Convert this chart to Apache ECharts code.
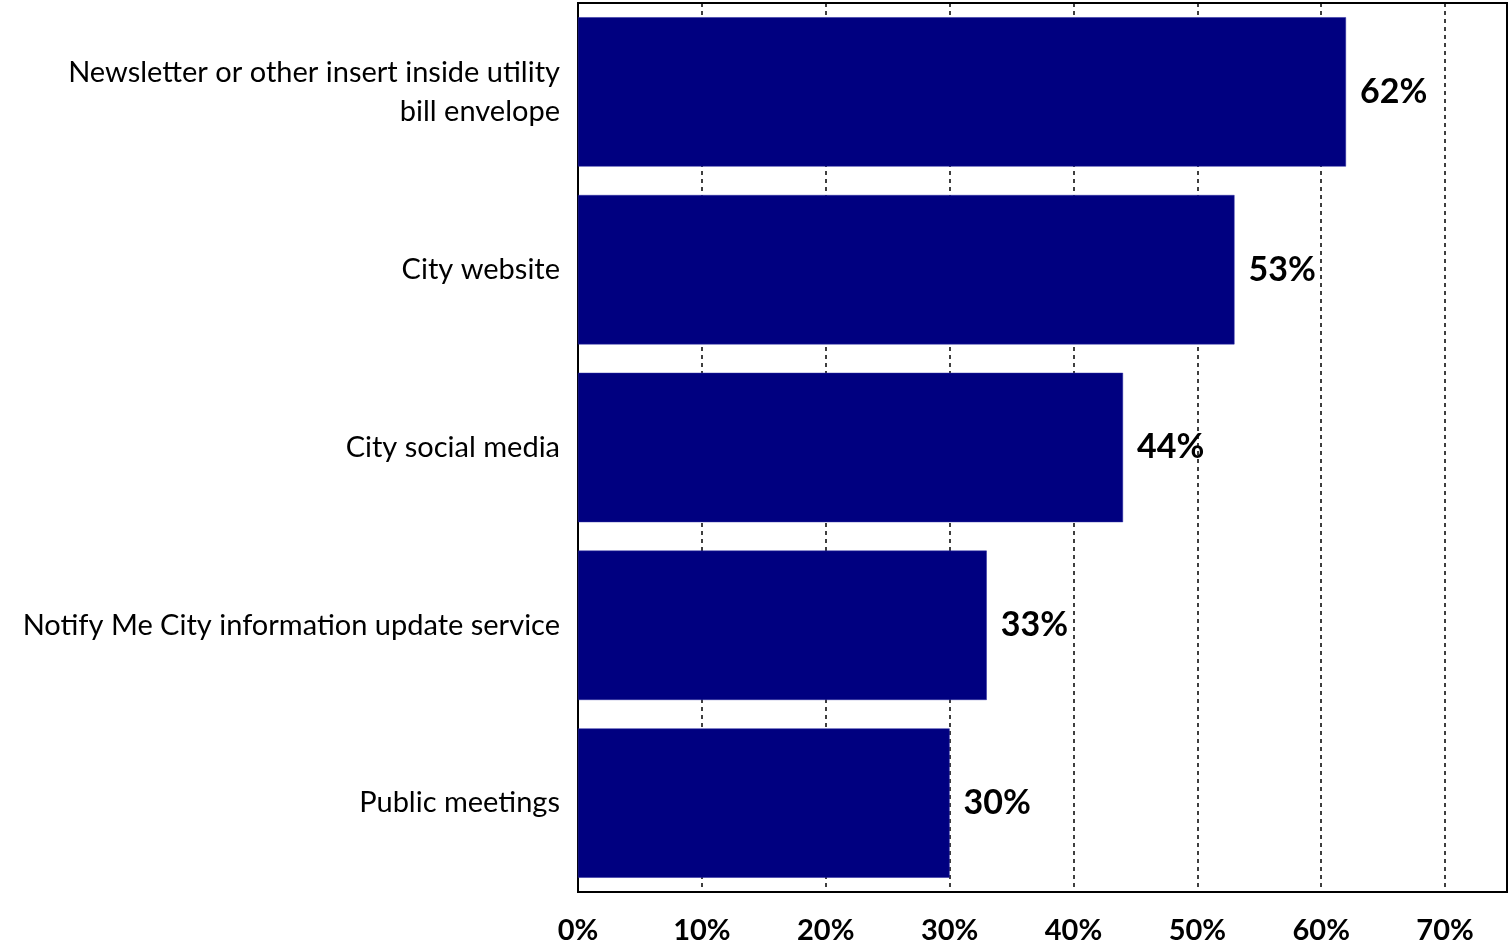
<!DOCTYPE html>
<html>
<head>
<meta charset="utf-8">
<style>
  html, body { margin: 0; padding: 0; background: #fff; }
  #chart { width: 1512px; height: 950px; }
</style>
<script src="https://cdn.jsdelivr.net/npm/echarts@6/dist/echarts.min.js"></script>
</head>
<body>
<div id="chart"></div>
<script>
// Communication channels, top to bottom
const categories = [
  'Newsletter or other insert inside utility\nbill envelope',
  'City website',
  'City social media',
  'Notify Me City information update service',
  'Public meetings'
];
// Share of respondents (%)
const shares = [62, 53, 44, 33, 30];
// Percentage axis
const axisMin = 0;
const axisMax = 75;
const axisStep = 10;

const chart = echarts.init(document.getElementById('chart'));
chart.setOption({
  animation: false,
  backgroundColor: '#ffffff',
  textStyle: { fontFamily: 'Lato' },
  grid: {
    left: 578, right: 5, top: 3, bottom: 58,
    show: true, borderColor: '#000', borderWidth: 2,
    containLabel: false
  },
  xAxis: {
    type: 'value',
    min: axisMin, max: axisMax, interval: axisStep,
    axisLine: { show: false },
    axisTick: { show: false },
    axisLabel: {
      showMaxLabel: false,
      margin: 24,
      fontSize: 29, fontWeight: 'bold', color: '#000',
      formatter: v => v + '%'
    },
    splitLine: {
      show: true,
      lineStyle: { color: '#000', width: 1.5, type: [4, 4] }
    }
  },
  yAxis: {
    type: 'category',
    data: categories,
    inverse: true,
    axisLine: { show: false },
    axisTick: { show: false },
    axisLabel: {
      margin: 18,
      fontSize: 29, color: '#000', lineHeight: 39, align: 'right',
      padding: [10, 0, 0, 0]
    }
  },
  series: [{
    type: 'bar',
    data: shares,
    barCategoryGap: '16%',
    itemStyle: { color: '#000080', borderColor: '#2a2aa0', borderWidth: 0.5 },
    label: {
      show: true, position: 'right', distance: 14,
      fontSize: 34, fontWeight: 'bold', color: '#000',
      formatter: p => p.value + '%'
    }
  }]
});
</script>
</body>
</html>
